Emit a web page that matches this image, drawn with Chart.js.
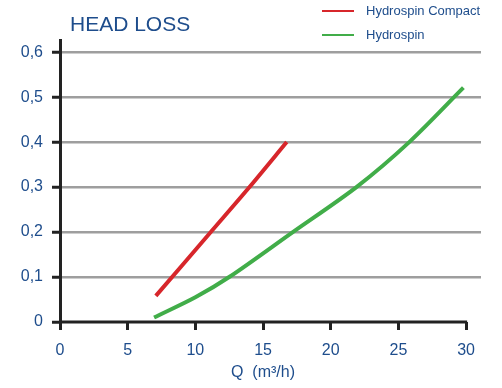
<!DOCTYPE html>
<html>
<head>
<meta charset="utf-8">
<script src="https://cdn.jsdelivr.net/npm/chart.js@4.4.1/dist/chart.umd.min.js"></script>
<style>
  html, body { margin: 0; padding: 0; background: #fff; }
</style>
</head>
<body>
<canvas id="headLoss" width="502" height="388"></canvas>
<script>
// Q (m3/h) / perte de charge (bar)
const compactQ = [7.08, 11.14, 14.0, 16.75];
const compactLoss = [0.058, 0.2, 0.3, 0.4];

const hydrospinQ = [6.95, 10, 12.5, 17.2, 21.9, 25.8, 29.8];
const hydrospinLoss = [0.01, 0.055, 0.1, 0.2, 0.3, 0.4, 0.521];

const xTicks = [0, 5, 10, 15, 20, 25, 30];
const yTicks = [0, 0.1, 0.2, 0.3, 0.4, 0.5, 0.6];

const BLUE = '#1e4d8c';
const RED = '#d7262b';
const GREEN = '#41ad49';
const AXIS = '#222222';

Chart.defaults.font.family = '"Liberation Sans", Arial, sans-serif';

function toPoints(xs, ys) {
    return xs.map((x, i) => ({ x: x, y: ys[i] }));
}

// titre, légende et axe horizontal (qui s'arrête à 30)
const decorPlugin = {
    id: 'decor',
    beforeDatasetsDraw(chart) {
        const ctx = chart.ctx;
        const x = chart.scales.x;
        const y = chart.scales.y;
        ctx.save();
        ctx.strokeStyle = AXIS;
        ctx.lineWidth = 3;
        ctx.beginPath();
        ctx.moveTo(x.getPixelForValue(0) - 1, y.getPixelForValue(0));
        ctx.lineTo(x.getPixelForValue(30) + 1, y.getPixelForValue(0));
        ctx.stroke();
        ctx.restore();
    },
    afterDraw(chart) {
        const ctx = chart.ctx;
        ctx.save();
        ctx.fillStyle = BLUE;
        ctx.textBaseline = 'alphabetic';
        ctx.font = '21px "Liberation Sans", Arial, sans-serif';
        ctx.fillText('HEAD LOSS', 70, 31);

        // légende
        const items = [
            { label: 'Hydrospin Compact', color: RED, y: 11 },
            { label: 'Hydrospin', color: GREEN, y: 35 }
        ];
        ctx.font = '13px "Liberation Sans", Arial, sans-serif';
        ctx.textBaseline = 'middle';
        items.forEach(it => {
            ctx.strokeStyle = it.color;
            ctx.lineWidth = 2;
            ctx.beginPath();
            ctx.moveTo(322, it.y);
            ctx.lineTo(354, it.y);
            ctx.stroke();
            ctx.fillText(it.label, 366, it.y);
        });

        // titre de l'axe x
        ctx.font = '16px "Liberation Sans", Arial, sans-serif';
        ctx.textAlign = 'center';
        ctx.fillText('Q  (m³/h)', 263, 373);
        ctx.restore();
    }
};

const chart = new Chart(document.getElementById('headLoss'), {
    type: 'scatter',
    data: {
        datasets: [{
            label: 'Hydrospin Compact',
            data: toPoints(compactQ, compactLoss),
            showLine: true,
            borderColor: RED,
            borderWidth: 4,
            pointRadius: 0,
            tension: 0.3
        }, {
            label: 'Hydrospin',
            data: toPoints(hydrospinQ, hydrospinLoss),
            showLine: true,
            borderColor: GREEN,
            borderWidth: 4,
            pointRadius: 0,
            tension: 0.3
        }]
    },
    options: {
        responsive: false,
        animation: false,
        devicePixelRatio: 1,
        layout: { padding: { top: 40, right: 21, left: 0, bottom: 0 } },
        plugins: {
            legend: { display: false },
            tooltip: { enabled: false }
        },
        scales: {
            x: {
                type: 'linear',
                min: 0,
                max: 31.1,
                afterBuildTicks: s => { s.ticks = xTicks.map(v => ({ value: v })); },
                afterFit: s => { s.height = 66; },
                border: { display: false },
                grid: {
                    drawOnChartArea: false,
                    drawTicks: true,
                    tickLength: 8,
                    color: AXIS,
                    tickColor: AXIS,
                    tickWidth: 3
                },
                ticks: {
                    color: BLUE,
                    font: { size: 16 },
                    padding: 11,
                    maxRotation: 0,
                    autoSkip: false
                }
            },
            y: {
                min: 0,
                max: 0.627,
                afterBuildTicks: s => { s.ticks = yTicks.map(v => ({ value: v })); },
                afterFit: s => { s.width = 60; },
                border: { display: true, color: AXIS, width: 3 },
                grid: {
                    color: c => (c.tick && c.tick.value === 0) ? 'rgba(0,0,0,0)' : '#9e9e9e',
                    lineWidth: 2.5,
                    tickLength: 8,
                    tickColor: AXIS,
                    tickWidth: 3
                },
                ticks: {
                    color: BLUE,
                    font: { size: 16 },
                    padding: 9,
                    autoSkip: false,
                    callback: v => v === 0 ? '0' : v.toFixed(1).replace('.', ',')
                }
            }
        }
    },
    plugins: [decorPlugin]
});
</script>
</body>
</html>
